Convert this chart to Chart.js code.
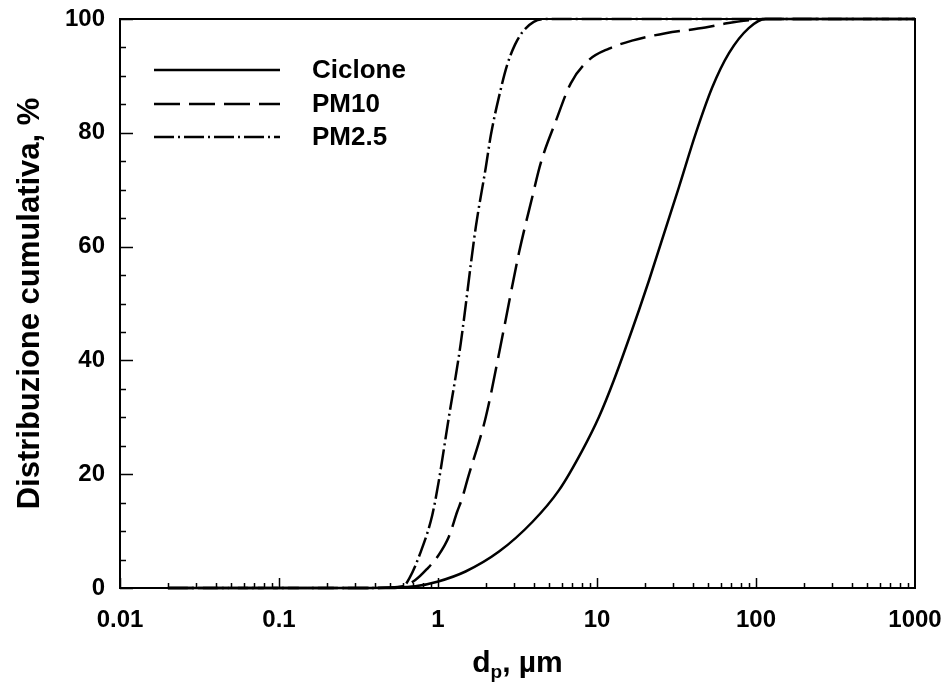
<!DOCTYPE html>
<html><head><meta charset="utf-8">
<script src="https://cdn.jsdelivr.net/npm/chart.js@4.4.0/dist/chart.umd.min.js"></script>
<style>html,body{margin:0;padding:0;background:#fff;}#wrap{width:950px;height:699px;}</style>
</head><body><div id="wrap"><canvas id="c" width="950" height="699"></canvas></div>
<script>
const seriesNames = ['Ciclone', 'PM10', 'PM2.5'];

const cicloneX = [0.02, 0.3, 0.5, 0.72, 0.99, 1.49, 2.42, 3.92, 5.77, 8.09, 10.3, 12.8, 18.4, 21.2, 32.8, 41.8, 53.1, 67.6, 90, 115, 1000];
const cicloneY = [0, 0, 0.1, 0.3, 1.1, 2.9, 6.4, 11.6, 17.2, 24.2, 30.1, 36.6, 48.9, 54, 70.5, 79.9, 88, 94, 98.4, 100, 100];

const pm10X = [0.02, 0.4, 0.6, 0.72, 0.85, 1.01, 1.17, 1.32, 1.42, 1.53, 2.0, 2.54, 3.23, 3.9, 4.43, 5.5, 6.84, 8.9, 11.9, 16.6, 27, 48, 64, 90, 115, 1000];
const pm10Y = [0, 0, 0.3, 1.4, 3.3, 5.8, 9, 13.4, 15.8, 19, 30.1, 44.2, 58.9, 68.5, 74.7, 82, 88.7, 92.8, 94.8, 96.2, 97.5, 98.5, 99.2, 99.8, 100, 100];

const pm25X = [0.02, 0.3, 0.5, 0.6, 0.66, 0.78, 0.92, 1.01, 1.17, 1.29, 1.39, 1.73, 2.0, 2.15, 2.45, 2.72, 3.05, 3.4, 4.0, 4.8, 1000];
const pm25Y = [0, 0, 0, 0.2, 1.7, 6.4, 12.8, 18.7, 30, 37.1, 43, 63.5, 74, 79.6, 87, 91.9, 95.5, 97.7, 99.5, 100, 100];

const xTickValues = [0.01, 0.1, 1, 10, 100, 1000];
const xTickLabels = ['0.01', '0.1', '1', '10', '100', '1000'];
const yTickValues = [0, 20, 40, 60, 80, 100];
const yTickLabels = ['0', '20', '40', '60', '80', '100'];
const yTitle = 'Distribuzione cumulativa, %';
const xTitleMain = 'd', xTitleSub = 'p', xTitleRest = ', \u00b5m';

const FONT = '"Liberation Sans", Arial, Helvetica, sans-serif';
const toPts = (xs, ys) => xs.map((v, i) => ({x: v, y: ys[i]}));

const dashes = [[], [26, 9], [20, 4, 2, 4]];

const framePlugin = {
  id: 'frame',
  afterDraw(chart) {
    const {ctx, chartArea: a, scales: {x, y}} = chart;
    ctx.save();
    ctx.strokeStyle = '#000';
    ctx.lineWidth = 2;
    ctx.setLineDash([]);
    ctx.strokeRect(a.left, a.top, a.right - a.left, a.bottom - a.top);
    ctx.lineWidth = 1.5;
    ctx.beginPath();
    for (let d = -2; d < 3; d++) {
      for (let m = 1; m <= 9; m++) {
        const v = m * Math.pow(10, d);
        const px = Math.round(x.getPixelForValue(v)) + 0.5;
        const len = m === 1 ? 10 : 5;
        ctx.moveTo(px, a.bottom);
        ctx.lineTo(px, a.bottom - len);
      }
    }
    for (let v = 0; v <= 100; v += 5) {
      const py = Math.round(y.getPixelForValue(v)) + 0.5;
      const len = v % 20 === 0 ? 13 : 6;
      ctx.moveTo(a.left, py);
      ctx.lineTo(a.left + len, py);
    }
    ctx.stroke();

    // legend
    const ly = [70, 104, 137];
    chart.data.datasets.forEach((ds, i) => {
      ctx.lineWidth = 2.5;
      ctx.setLineDash(ds.borderDash || []);
      ctx.beginPath();
      ctx.moveTo(154, ly[i]);
      ctx.lineTo(280, ly[i]);
      ctx.stroke();
      ctx.setLineDash([]);
      ctx.fillStyle = '#000';
      ctx.font = 'bold 26px ' + FONT;
      ctx.textAlign = 'left';
      ctx.textBaseline = 'middle';
      ctx.fillText(ds.label, 312, ly[i] + 1);
    });

    // axis titles
    ctx.fillStyle = '#000';
    ctx.save();
    ctx.translate(30, (a.top + a.bottom) / 2);
    ctx.rotate(-Math.PI / 2);
    ctx.font = 'bold 31px ' + FONT;
    ctx.textAlign = 'center';
    ctx.textBaseline = 'middle';
    ctx.fillText(yTitle, 0, 0);
    ctx.restore();

    ctx.textAlign = 'left';
    ctx.textBaseline = 'alphabetic';
    ctx.font = 'bold 30px ' + FONT;
    const w1 = ctx.measureText(xTitleMain).width;
    const w3 = ctx.measureText(xTitleRest).width;
    ctx.font = 'bold 19px ' + FONT;
    const w2 = ctx.measureText(xTitleSub).width;
    const total = w1 + w2 + w3;
    const cx = (a.left + a.right) / 2;
    let sx = cx - total / 2;
    const base = 672;
    ctx.font = 'bold 30px ' + FONT;
    ctx.fillText(xTitleMain, sx, base);
    ctx.font = 'bold 19px ' + FONT;
    ctx.fillText(xTitleSub, sx + w1, base + 6);
    ctx.font = 'bold 30px ' + FONT;
    ctx.fillText(xTitleRest, sx + w1 + w2, base);
    ctx.restore();
  }
};

new Chart(document.getElementById('c'), {
  type: 'line',
  data: {
    datasets: [
      {label: seriesNames[0], data: toPts(cicloneX, cicloneY), borderDash: dashes[0]},
      {label: seriesNames[1], data: toPts(pm10X, pm10Y), borderDash: dashes[1]},
      {label: seriesNames[2], data: toPts(pm25X, pm25Y), borderDash: dashes[2]}
    ].map(ds => Object.assign(ds, {
      borderColor: '#000', borderWidth: 2.5, pointRadius: 0, fill: false,
      cubicInterpolationMode: 'monotone', clip: false
    }))
  },
  options: {
    responsive: false,
    animation: false,
    devicePixelRatio: 1,
    layout: {padding: {left: 0, top: 19, right: 35, bottom: 0}},
    plugins: {legend: {display: false}, tooltip: {enabled: false}},
    scales: {
      x: {
        type: 'logarithmic', min: 0.01, max: 1000,
        grid: {display: false, drawTicks: false},
        border: {display: false},
        afterBuildTicks: s => { s.ticks = xTickValues.map(v => ({value: v})); },
        afterFit: s => { s.height = 111; s.paddingLeft = 0; s.paddingRight = 0; },
        ticks: {
          autoSkip: false, maxRotation: 0, padding: 18, color: '#000',
          font: {family: FONT, size: 24, weight: 'bold'},
          callback: v => { const i = xTickValues.indexOf(v); return i >= 0 ? xTickLabels[i] : ''; }
        }
      },
      y: {
        type: 'linear', min: 0, max: 100,
        grid: {display: false, drawTicks: false},
        border: {display: false},
        afterBuildTicks: s => { s.ticks = yTickValues.map(v => ({value: v})); },
        afterFit: s => { s.width = 120; s.paddingTop = 0; s.paddingBottom = 0; },
        ticks: {
          padding: 15, color: '#000',
          font: {family: FONT, size: 24, weight: 'bold'},
          callback: v => { const i = yTickValues.indexOf(v); return i >= 0 ? yTickLabels[i] : ''; }
        }
      }
    }
  },
  plugins: [framePlugin]
});
</script>
</body></html>
